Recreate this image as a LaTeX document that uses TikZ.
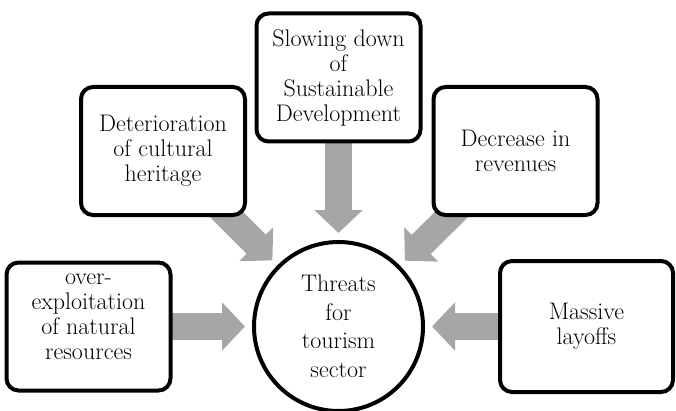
\documentclass[tikz,border=0pt]{standalone}
\usetikzlibrary{arrows.meta,positioning}
\definecolor{arrowgray}{HTML}{A6A6A6}
\pgfdeclarelayer{background}
\pgfsetlayers{background,main}

\begin{document}
\begin{tikzpicture}[x=1pt,y=1pt,on grid,
    font=\fontsize{24}{25}\selectfont,
    cause/.style={draw,line width=4pt,rounded corners=12pt,fill=white,align=center,
                  minimum width=164pt,minimum height=128pt,inner sep=0pt},
    hub/.style={draw,circle,line width=4pt,fill=white,align=center,
                minimum size=169pt,inner sep=0pt,font=\fontsize{24}{28.5}\selectfont},
    push/.style={arrowgray,line width=27pt,-{Triangle[length=23pt,width=47pt]},shorten >=7pt}]
  \useasboundingbox (0,0) rectangle (676,410);

  \node[hub]   (thr) at (338.5,83.5)                    {Threats\\for\\tourism\\sector};
  \node[cause] (det)  [above left=175.5pt and 175.5pt of thr]  {Deterioration\\of cultural\\heritage};
  \node[cause] (slow) [above=249pt of thr]              {Slowing down\\of\\Sustainable\\Development};
  \node[cause] (dec)  [above right=175.5pt and 177pt of thr]   {Decrease in\\revenues};
  \node[cause] (over) [left=250pt of thr]               {over-\\exploitation\\of natural\\resources\\[-5pt]\mbox{}};
  \node[cause,minimum width=173pt,minimum height=131pt] (mass) [right=248pt of thr] {Massive\\layoffs};

  % block arrows behind the boxes
  \begin{pgfonlayer}{background}
    \path[push] (det.center)  edge (thr)
                (slow.center) edge (thr)
                (dec.center)  edge (thr)
                (over.center) edge (thr)
                (mass.center) edge (thr);
  \end{pgfonlayer}
\end{tikzpicture}
\end{document}
